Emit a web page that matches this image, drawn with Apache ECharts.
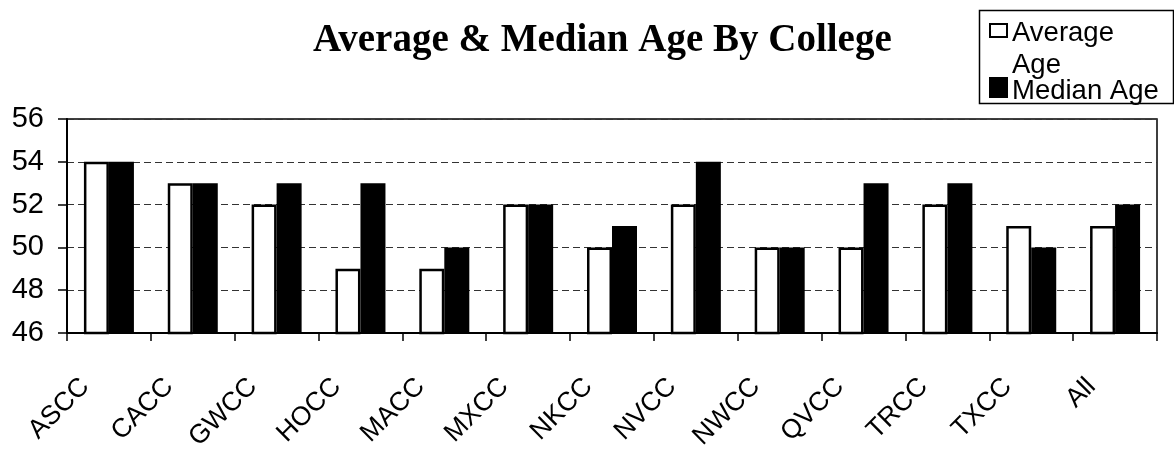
<!DOCTYPE html>
<html>
<head>
<meta charset="utf-8">
<script src="https://cdn.jsdelivr.net/npm/echarts@6/dist/echarts.min.js"></script>
<style>
html,body{margin:0;padding:0;background:#fff;}
#chart{width:1174px;height:451px;}
</style>
</head>
<body>
<div id="chart"></div>
<script>
const titleText = 'Average & Median Age By College';
const categories = ['ASCC','CACC','GWCC','HOCC','MACC','MXCC','NKCC','NVCC','NWCC','QVCC','TRCC','TXCC','All'];
const averageAge = [54, 53, 52, 49, 49, 52, 50, 52, 50, 50, 52, 51, 51];
const medianAge  = [54, 53, 53, 53, 50, 52, 51, 54, 50, 53, 53, 50, 52];
const seriesNames = ['Average Age', 'Median Age'];
const yMin = 46, yMax = 56, yStep = 2;

const SANS = 'Liberation Sans, Arial, sans-serif';
const chart = echarts.init(document.getElementById('chart'), null, {renderer: 'canvas'});
chart.setOption({
  animation: false,
  backgroundColor: '#fff',
  title: {
    text: titleText,
    left: 313,
    top: 21,
    padding: 0,
    textStyle: {fontFamily: 'Liberation Serif, Times New Roman, serif', fontWeight: 'bold', fontSize: 39, color: '#000'}
  },
  graphic: [{
    type: 'rect', left: 977, top: 8, z: 100,
    shape: {width: 194, height: 93},
    style: {fill: 'none', stroke: '#000', lineWidth: 1.5}
  }],
  legend: [{
    data: [seriesNames[0]],
    left: 989, top: 16, padding: 0,
    itemWidth: 17, itemHeight: 64,
    icon: 'path://M0,7L17,7L17,20L0,20Z M0,0 M0,64',
    selectedMode: false,
    formatter: function () { return 'Average\nAge'; },
    textStyle: {fontFamily: SANS, fontSize: 27.5, lineHeight: 32, color: '#000'}
  }, {
    data: [seriesNames[1]],
    left: 989, top: 77, padding: 0,
    itemWidth: 17, itemHeight: 27,
    icon: 'path://M0,0L17,0L17,19L0,19Z M0,27',
    selectedMode: false,
    textStyle: {fontFamily: SANS, fontSize: 27.5, color: '#000'}
  }],
  grid: {
    left: 67, right: 17, top: 119, bottom: 118,
    outerBoundsMode: 'none',
    containLabel: false,
    show: true, borderColor: '#000', borderWidth: 1.5, backgroundColor: '#fff'
  },
  xAxis: {
    type: 'category',
    data: categories,
    axisLine: {lineStyle: {color: '#000', width: 2}},
    axisTick: {show: true, length: 8, lineStyle: {color: '#000', width: 1.5}},
    axisLabel: {
      interval: 0, rotate: 45, margin: 45,
      verticalAlign: 'bottom',
      formatter: function (v) { return v + '\u00a0\u00a0\u2009'; },
      fontFamily: SANS, fontSize: 26.5, color: '#000'
    }
  },
  yAxis: {
    type: 'value',
    min: yMin, max: yMax, interval: yStep,
    axisLine: {show: true, lineStyle: {color: '#000', width: 2}},
    axisTick: {show: true, length: 9, lineStyle: {color: '#000', width: 1.5}},
    axisLabel: {margin: 23, fontFamily: SANS, fontSize: 29, color: '#000'},
    splitLine: {show: true, lineStyle: {color: '#333', width: 1.2, type: [7, 4]}}
  },
  series: [{
    name: seriesNames[0],
    type: 'bar',
    data: averageAge,
    barWidth: 25,
    barGap: '0%',
    itemStyle: {color: '#fff', borderColor: '#000', borderWidth: 2.5}
  }, {
    name: seriesNames[1],
    type: 'bar',
    data: medianAge,
    barWidth: 25,
    itemStyle: {color: '#000', borderColor: '#000', borderWidth: 2}
  }]
});
</script>
</body>
</html>
